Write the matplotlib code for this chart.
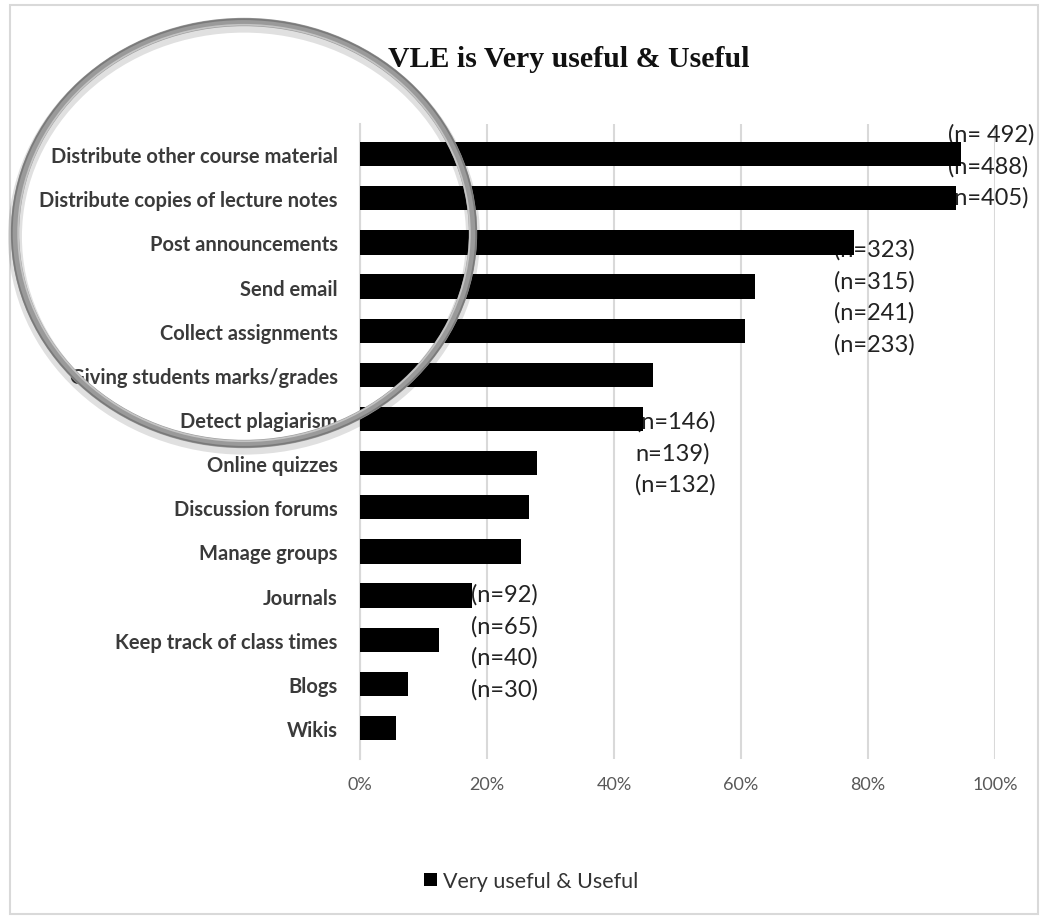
import matplotlib
matplotlib.use('Agg')
import matplotlib.pyplot as plt
from matplotlib.patches import Ellipse, Rectangle

plt.rcParams['font.family'] = ['Lato', 'DejaVu Sans']

categories = ['Distribute other course material', 'Distribute copies of lecture notes',
              'Post announcements', 'Send email', 'Collect assignments',
              'Giving students marks/grades', 'Detect plagiarism', 'Online quizzes',
              'Discussion forums', 'Manage groups', 'Journals',
              'Keep track of class times', 'Blogs', 'Wikis']
values = [0.946, 0.939, 0.778, 0.622, 0.606, 0.461, 0.446, 0.279, 0.266, 0.253,
          0.176, 0.124, 0.076, 0.057]
xticks = [0, 0.2, 0.4, 0.6, 0.8, 1.0]
xticklabels = ['0%', '20%', '40%', '60%', '80%', '100%']

# n labels as they sit in the original, in stacked groups
n_groups = [['(n= 492)', '(n=488)', '(n=405)'],
            ['(n=323)', '(n=315)', '(n=241)', '(n=233)'],
            ['(n=146)', 'n=139)', '(n=132)'],
            ['(n=92)', '(n=65)', '(n=40)', '(n=30)']]
group_x = [0.926, 0.747, 0.433, 0.175]
group_y = [-0.45, 2.15, 6.05, 9.97]
line_step = 0.713

fig = plt.figure(figsize=(10.41, 9.2), dpi=100)
ax = fig.add_axes([0.3458, 0.1739, 0.61, 0.6902])

ypos = list(range(len(categories)))
bars = ax.barh(ypos, values, height=0.55, color='black', zorder=3,
               label='Very useful & Useful')

ax.set_xlim(0, 1.0)
ax.set_ylim(13.7, -0.68)
ax.set_yticks(ypos)
ax.set_yticklabels(categories, fontsize=14.5, fontweight='bold', color='#3a3a3a')
ax.set_xticks(xticks)
ax.set_xticklabels(xticklabels, fontsize=13, color='#595959')
ax.tick_params(axis='y', length=0, pad=16)
ax.tick_params(axis='x', length=0, pad=12)

ax.grid(axis='x', color='#d9d9d9', lw=1.5, zorder=0)
for s in ['top', 'right', 'bottom']:
    ax.spines[s].set_visible(False)
ax.spines['left'].set_color('#d9d9d9')
ax.spines['left'].set_linewidth(1.5)

for grp, gx, gy in zip(n_groups, group_x, group_y):
    for i, t in enumerate(grp):
        ax.text(gx, gy + i * line_step, t, fontsize=17, color='#222222',
                ha='left', va='center', zorder=2)

fig.text(0.546, 0.935, 'VLE is Very useful & Useful', fontsize=21.5, fontweight='bold',
         family='Liberation Serif', ha='center', va='center', color='#111111')

leg = ax.legend(loc='center', bbox_to_anchor=(0.51, 1 - 882 / 920),
                bbox_transform=fig.transFigure, frameon=False, fontsize=15.5,
                handlelength=0.6, handleheight=0.6, handletextpad=0.3)
for t in leg.get_texts():
    t.set_color('#333333')

# frame around chart
fig.add_artist(Rectangle((10 / 1041, 1 - 915 / 920), 1028 / 1041, 909 / 920,
                         transform=fig.transFigure, fill=False, ec='#d9d9d9', lw=1.5))

# the gray ring drawn over the chart
cx, cy, w, h = 244 / 1041, 1 - 234 / 920, 458 / 1041, 422 / 920
fig.add_artist(Ellipse((cx, cy - 0.004), w, h, transform=fig.transFigure, fill=False,
                       ec='#000000', lw=10, alpha=0.12, zorder=10))
fig.add_artist(Ellipse((cx, cy), w, h, transform=fig.transFigure, fill=False,
                       ec='#9a9a9a', lw=6, zorder=11))
fig.add_artist(Ellipse((cx, cy), w + 0.006, h + 0.006, transform=fig.transFigure, fill=False,
                       ec='#7a7a7a', lw=1.2, zorder=12))
fig.add_artist(Ellipse((cx, cy), w - 0.006, h - 0.006, transform=fig.transFigure, fill=False,
                       ec='#c4c4c4', lw=1.2, zorder=12))

plt.savefig('out.png', dpi=100)
